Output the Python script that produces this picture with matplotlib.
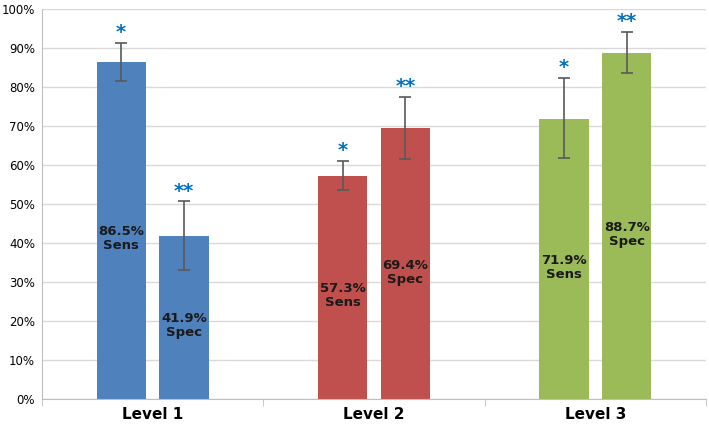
import numpy as np
from matplotlib import pyplot as plt
from matplotlib.ticker import FuncFormatter

levels = ['Level 1', 'Level 2', 'Level 3']
sens = [86.5, 57.3, 71.9]
spec = [41.9, 69.4, 88.7]
sens_low = [81.6, 53.7, 61.7]
sens_high = [91.4, 61.1, 82.3]
spec_low = [33.2, 61.5, 83.5]
spec_high = [50.7, 77.4, 94.1]
colors = ['#4F81BD', '#C0504D', '#9BBB59']

fig = plt.figure(figsize=(7.09, 4.30), dpi=100)
ax = fig.add_axes([0.059, 0.072, 0.937, 0.907])

x = np.arange(len(levels))
width = 0.222
offset = 0.142

for i in range(len(levels)):
    for pos, val, lo, hi, stars, tag in [
        (x[i] - offset, sens[i], sens_low[i], sens_high[i], '*', 'Sens'),
        (x[i] + offset, spec[i], spec_low[i], spec_high[i], '**', 'Spec'),
    ]:
        ax.bar(pos, val, width, color=colors[i], zorder=2)
        ax.errorbar(pos, val, yerr=[[val - lo], [hi - val]], fmt='none',
                    ecolor='#595959', elinewidth=1.2, capsize=4, capthick=1.2, zorder=3)
        ax.text(pos, val / 2 - 2.2, f'{val:.1f}%\n{tag}', ha='center', va='center',
                fontsize=9.5, fontweight='bold', color='#1a1a1a', linespacing=1.1, zorder=4)
        ax.text(pos, hi + 0.2, stars, ha='center', va='bottom', fontsize=14,
                fontweight='bold', color='#0070C0', zorder=4)

ax.set_xlim(-0.5, 2.5)
ax.set_ylim(0, 100)
ax.set_yticks(np.arange(0, 101, 10))
ax.yaxis.set_major_formatter(FuncFormatter(lambda v, p: f'{v:.0f}%'))
ax.set_xticks(x)
ax.set_xticklabels(levels, fontsize=11, fontweight='bold')
ax.set_xticks([-0.5, 0.5, 1.5, 2.5], minor=True)
ax.tick_params(axis='x', which='major', length=0, pad=6)
ax.tick_params(axis='x', which='minor', length=5, color='#BFBFBF')
ax.tick_params(axis='y', length=0, labelsize=8.5, pad=5)
ax.grid(axis='y', color='#D9D9D9', linewidth=1, zorder=0)
ax.set_axisbelow(True)
for side in ['top', 'right']:
    ax.spines[side].set_visible(False)
ax.spines['left'].set_color('#BFBFBF')
ax.spines['bottom'].set_color('#BFBFBF')

fig.savefig('out.png', dpi=100)
